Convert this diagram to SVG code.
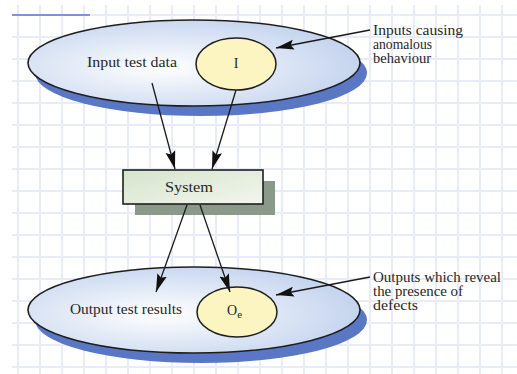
<svg xmlns="http://www.w3.org/2000/svg" width="517" height="374" viewBox="0 0 517 374">
<defs>
<style>
.grid{stroke:#e8ebfa;stroke-width:2}
.big{stroke:#1e1e1e;stroke-width:1.6;fill:url(#gBlue)}
.shadowB{fill:#5a77c6}
.small{stroke:#1e1e1e;stroke-width:1.5;fill:#fcf5c2}
.t{font-family:"Liberation Serif",serif;font-size:14px;fill:#262626}
.conn{stroke:#1a1a1a;stroke-width:1.3;fill:none;marker-end:url(#ah)}
</style>
<radialGradient id="gBlue" cx="0.4" cy="0.55" r="0.62">
<stop offset="0" stop-color="#ffffff"/>
<stop offset="1" stop-color="#c3d3ee"/>
</radialGradient>
<linearGradient id="gGreen" x1="0" y1="0" x2="1" y2="1">
<stop offset="0" stop-color="#d6e4cc"/>
<stop offset="1" stop-color="#f2f6ee"/>
</linearGradient>
<marker id="ah" markerUnits="userSpaceOnUse" markerWidth="20" markerHeight="12" refX="18" refY="6" orient="auto">
<path d="M0,1 L18,6 L0,11 L3,6 z" fill="#111"/>
</marker>
</defs>
<rect width="517" height="374" fill="#ffffff"/>
<g id="grid">
<path class="grid" d="M18,5V374M40,5V374M62,5V374M84,5V374M106,5V374M128,5V374M150,5V374M172,5V374M194,5V374M216,5V374M238,5V374M260,5V374M282,5V374M304,5V374M326,5V374M348,5V374M370,5V374M392,5V374M414,5V374M436,5V374M458,5V374M480,5V374M502,5V374"/>
<path class="grid" d="M12,37H517M12,59H517M12,81H517M12,103H517M12,125H517M12,147H517M12,169H517M12,191H517M12,213H517M12,235H517M12,257H517M12,279H517M12,301H517M12,323H517M12,345H517M12,367H517M90,15H517"/>
<line x1="12" y1="15" x2="90" y2="15" stroke="#7f90e2" stroke-width="2"/>
</g>
<g id="input-set">
<ellipse class="shadowB" cx="201" cy="73" rx="166" ry="43"/>
<ellipse class="big" cx="194" cy="63" rx="166" ry="43"/>
<text class="t" x="87" y="67" textLength="90" lengthAdjust="spacingAndGlyphs">Input test data</text>
</g>
<g id="input-I">
<ellipse class="small" cx="236" cy="64" rx="40" ry="26"/>
<text class="t" x="236" y="68" text-anchor="middle">I</text>
</g>
<g id="system">
<rect x="135" y="181" width="140" height="34" fill="#8b998b"/>
<rect x="123" y="170" width="140" height="34" fill="url(#gGreen)" stroke="#1e1e1e" stroke-width="1.6"/>
<text class="t" x="189" y="192" text-anchor="middle" textLength="48" lengthAdjust="spacingAndGlyphs">System</text>
</g>
<g id="output-set">
<ellipse class="shadowB" cx="201" cy="320" rx="166" ry="43"/>
<ellipse class="big" cx="194" cy="310" rx="166" ry="43"/>
<text class="t" x="70" y="314" textLength="112" lengthAdjust="spacingAndGlyphs">Output test results</text>
</g>
<g id="output-Oe">
<ellipse class="small" cx="237" cy="312" rx="40" ry="25"/>
<text class="t" x="227" y="315">O<tspan font-size="11" dy="3">e</tspan></text>
</g>
<g id="label-inputs">
<text class="t" x="373" y="35" textLength="90" lengthAdjust="spacingAndGlyphs">Inputs causing</text>
<text class="t" x="373" y="49" textLength="59" lengthAdjust="spacingAndGlyphs">anomalous</text>
<text class="t" x="373" y="63" textLength="58" lengthAdjust="spacingAndGlyphs">behaviour</text>
</g>
<g id="label-outputs">
<text class="t" x="373" y="282" textLength="128" lengthAdjust="spacingAndGlyphs">Outputs which reveal</text>
<text class="t" x="373" y="296" textLength="90" lengthAdjust="spacingAndGlyphs">the presence of</text>
<text class="t" x="373" y="310" textLength="45" lengthAdjust="spacingAndGlyphs">defects</text>
</g>
<g id="connectors">
<line class="conn" x1="152" y1="83" x2="175" y2="169"/>
<line class="conn" x1="236" y1="90" x2="212" y2="169"/>
<line class="conn" x1="187" y1="205" x2="156" y2="292"/>
<line class="conn" x1="200" y1="205" x2="230" y2="292"/>
<line class="conn" x1="370" y1="30" x2="276" y2="48"/>
<line class="conn" x1="370" y1="277" x2="276" y2="295"/>
</g>
</svg>
